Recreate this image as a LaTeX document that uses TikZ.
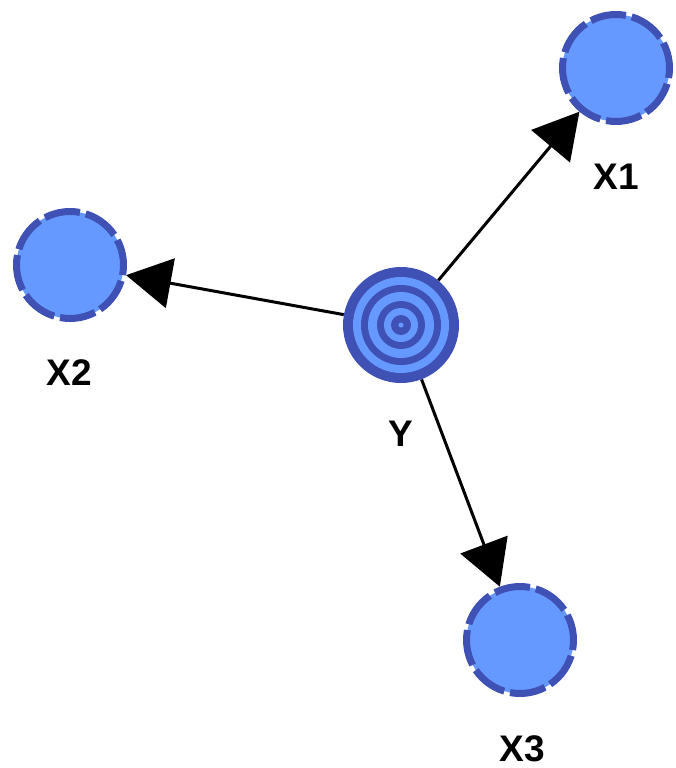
\documentclass[tikz,border=0pt]{standalone}
\usepackage{fontspec}
\setmainfont{Liberation Sans}
\usetikzlibrary{arrows.meta}
\definecolor{ringdark}{HTML}{3F51B5}
\definecolor{ringlight}{HTML}{6699FF}
\tikzset{
  varnode/.style={circle, minimum size=107pt, inner sep=0pt, fill=ringlight,
    draw=ringdark, line width=7pt, dash pattern=on 36pt off 6pt, dash phase=10pt},
  targetnode/.style={circle, minimum size=116pt, inner sep=0pt, fill=ringdark},
  lab/.style={font=\fontsize{37}{40}\selectfont\bfseries, inner sep=0pt},
  arr/.style={line width=3pt, -{Triangle[length=45pt,width=50pt]}},
}
\begin{document}
\begin{tikzpicture}[x=1pt,y=1pt]
\useasboundingbox (0,0) rectangle (675,-768);

% outcome node with concentric rings
\node[targetnode] (y) at (401,-325) {};
\foreach \r/\c in {48/ringlight, 40/ringdark, 33/ringlight, 24/ringdark, 17/ringlight, 10/ringdark, 2.5/ringlight}
  \fill[\c] (y.center) circle (\r);

% predictor nodes
\node[varnode] (x1) at (616,-68) {};
\node[varnode] (x2) at (70,-265) {};
\node[varnode] (x3) at (520,-640) {};

% labels
\node[lab] (ly)  at (401,-434) {Y};
\node[lab] (lx1) at (616,-177) {X1};
\node[lab] (lx2) at (69,-373) {X2};
\node[lab] (lx3) at (522,-749) {X3};

% arrows
\draw[arr] (y) -- (x1);
\draw[arr] (y) -- (x2);
\draw[arr] (y) -- (x3);
\end{tikzpicture}
\end{document}
